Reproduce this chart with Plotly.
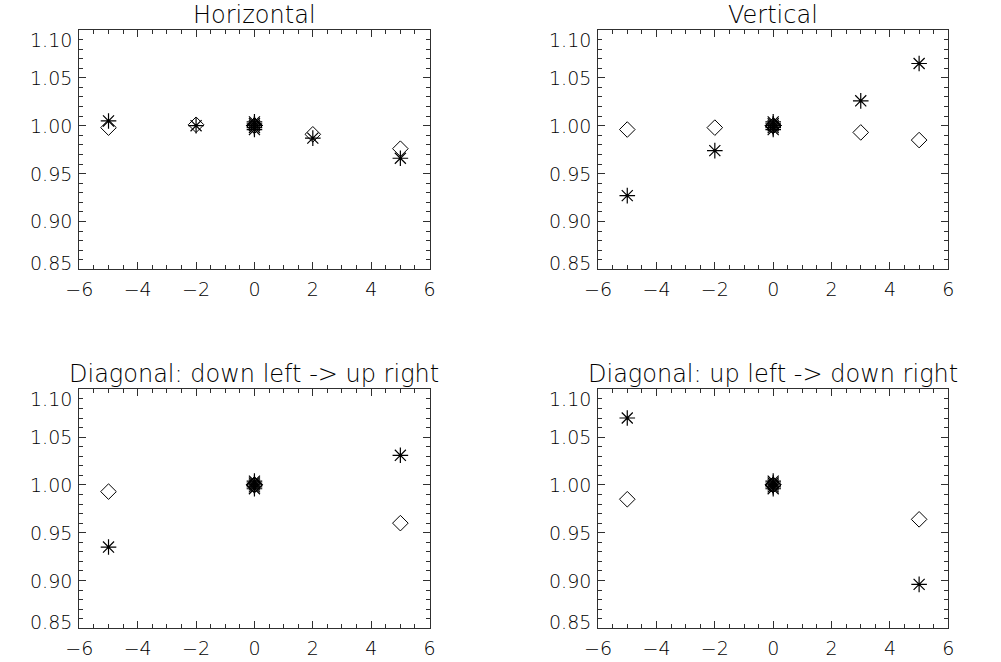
import plotly.graph_objects as go

# Axis ticks shared by all four panels
X_RANGE = [-6, 6]
Y_RANGE = [0.85, 1.10]
Y_TICKS = [0.85, 0.90, 0.95, 1.00, 1.05, 1.10]
Y_TICK_TEXT = ["0.85", "0.90", "0.95", "1.00", "1.05", "1.10"]

TITLES = [
    "Horizontal",
    "Vertical",
    "Diagonal: down left -> up right",
    "Diagonal: up left -> down right",
]

# Horizontal scan
horiz_offset = [-5, -2, 0, 0, 0, 0, 0, 2, 5]
horiz_star = [1.005, 1.000, 0.996, 0.998, 1.000, 1.002, 1.004, 0.987, 0.966]
horiz_diamond = [0.998, 1.001, 1.000, 1.000, 1.000, 1.000, 1.000, 0.991, 0.976]

# Vertical scan
vert_offset = [-5, -2, 0, 0, 0, 0, 0, 3, 5]
vert_star = [0.927, 0.974, 0.996, 0.998, 1.000, 1.002, 1.004, 1.026, 1.065]
vert_diamond = [0.996, 0.998, 1.000, 1.000, 1.000, 1.000, 1.000, 0.993, 0.985]

# Diagonal, down left -> up right
diag1_offset = [-5, 0, 0, 0, 0, 0, 5]
diag1_star = [0.935, 0.996, 0.998, 1.000, 1.002, 1.004, 1.031]
diag1_diamond = [0.993, 1.000, 1.000, 1.000, 1.000, 1.000, 0.960]

# Diagonal, up left -> down right
diag2_offset = [-5, 0, 0, 0, 0, 0, 5]
diag2_star = [1.070, 0.996, 0.998, 1.000, 1.002, 1.004, 0.896]
diag2_diamond = [0.985, 1.000, 1.000, 1.000, 1.000, 1.000, 0.964]

PANELS = [
    (horiz_offset, horiz_star, horiz_diamond),
    (vert_offset, vert_star, vert_diamond),
    (diag1_offset, diag1_star, diag1_diamond),
    (diag2_offset, diag2_star, diag2_diamond),
]

# Panel placement in paper coordinates
X_DOMAINS = [[0.0666, 0.4236], [0.5954, 0.9524]]
Y_DOMAINS = [[0.5932, 0.9547], [0.0509, 0.4119]]

FONT = "DejaVu Sans"
WEIGHT = 200
INK = "black"
AXIS_INK = "#303030"

fig = go.Figure()
annotations = []

for i, (offs, star, diamond) in enumerate(PANELS):
    n = "" if i == 0 else str(i + 1)
    xa, ya = "x" + n, "y" + n

    fig.add_trace(go.Scatter(
        x=offs, y=diamond, mode="markers", xaxis=xa, yaxis=ya,
        marker=dict(symbol="diamond-open", size=12, color=INK,
                    line=dict(width=1, color=INK)),
        showlegend=False, hoverinfo="skip"))
    fig.add_trace(go.Scatter(
        x=offs, y=star, mode="markers", xaxis=xa, yaxis=ya,
        marker=dict(symbol="asterisk-open", size=13, color=INK,
                    line=dict(width=1.2, color=INK)),
        showlegend=False, hoverinfo="skip"))

    common = dict(
        showline=True, linecolor=AXIS_INK, linewidth=1, mirror="allticks",
        ticks="inside", tickcolor=AXIS_INK, tickwidth=1, ticklen=7,
        showgrid=False, zeroline=False, fixedrange=True,
    )
    fig.layout["xaxis" + n] = dict(
        common, domain=X_DOMAINS[i % 2], range=X_RANGE, anchor=ya,
        tickmode="linear", tick0=0, dtick=2,
        minor=dict(ticks="inside", ticklen=4, tickcolor=AXIS_INK,
                   tickmode="linear", tick0=0, dtick=0.5, showgrid=False),
        tickfont=dict(family=FONT, size=19, color=INK, weight=WEIGHT),
        ticklabelstandoff=3,
    )
    fig.layout["yaxis" + n] = dict(
        common, domain=Y_DOMAINS[i // 2], range=Y_RANGE, anchor=xa,
        tickmode="linear", tick0=0.85, dtick=0.05, showticklabels=False,
        minor=dict(ticks="inside", ticklen=4, tickcolor=AXIS_INK,
                   tickmode="linear", tick0=0.85, dtick=0.01, showgrid=False),
    )

    # y tick labels, end labels pulled inside the frame
    for v, t in zip(Y_TICKS, Y_TICK_TEXT):
        shift = -10 if v == Y_RANGE[1] else (6 if v == Y_RANGE[0] else 0)
        annotations.append(dict(
            text=t, x=0, y=v, xref=xa + " domain", yref=ya,
            xanchor="right", yanchor="middle", xshift=-5, yshift=shift,
            showarrow=False,
            font=dict(family=FONT, size=19, color=INK, weight=WEIGHT)))

    annotations.append(dict(
        text=TITLES[i], x=0.5, y=1, xref=xa + " domain", yref=ya + " domain",
        xanchor="center", yanchor="bottom", yshift=-1, showarrow=False,
        font=dict(family=FONT, size=24, color=INK, weight=WEIGHT)))

fig.update_layout(
    width=1001, height=662,
    margin=dict(l=0, r=0, t=0, b=0),
    paper_bgcolor="white", plot_bgcolor="white",
    annotations=annotations,
)

fig.write_html("out.html", config={"displayModeBar": False})
